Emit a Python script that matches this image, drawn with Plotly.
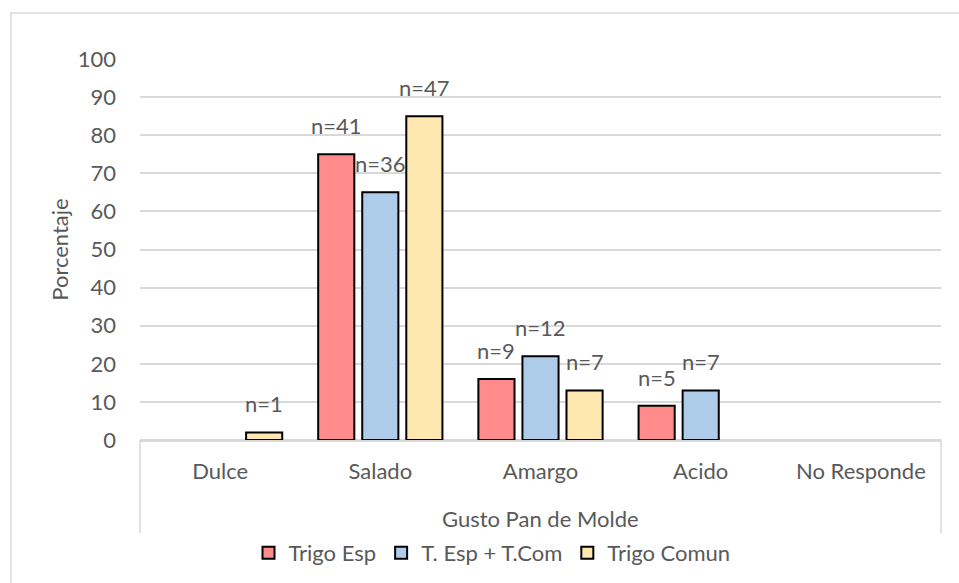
import plotly.graph_objects as go

categories = ["Dulce", "Salado", "Amargo", "Acido", "No Responde"]
series_names = ["Trigo Esp", "T. Esp + T.Com", "Trigo Comun"]
trigo_esp = [None, 75, 16, 9, None]
t_esp_com = [None, 65, 22, 13, None]
trigo_comun = [2, 85, 13, None, None]
labels_esp = [None, "n=41", "n=9", "n=5", None]
labels_esp_com = [None, "n=36", "n=12", "n=7", None]
labels_comun = ["n=1", "n=47", "n=7", None, None]
y_ticks = [0, 10, 20, 30, 40, 50, 60, 70, 80, 90, 100]

colors = ["#FF8B8B", "#ADCCEA", "#FFE8B0"]
FONT = "Lato, 'Open Sans', sans-serif"
FS = 22
GRAY = "#595959"
LINE = "#D9D9D9"

W, H = 959, 583
L, R, T, B = 140, 18, 59, 143
plot_w = W - L - R
plot_h = H - T - B

def px_x(p):
    return (p - L) / plot_w

def px_y(p):
    return (H - B - p) / plot_h

bargap = 0.175
bargroupgap = 0.18

fig = go.Figure()
all_vals = [trigo_esp, t_esp_com, trigo_comun]
all_labels = [labels_esp, labels_esp_com, labels_comun]
for name, vals, col in zip(series_names, all_vals, colors):
    fig.add_trace(go.Bar(
        name=name, x=categories, y=vals,
        marker=dict(color=col, line=dict(color="black", width=2)),
    ))

# data labels above bars
cat_w = plot_w / len(categories)
slot = cat_w * (1 - bargap) / 3
for i, (vals, labs) in enumerate(zip(all_vals, all_labels)):
    for c, v, t in zip(categories, vals, labs):
        if v is None or t is None:
            continue
        fig.add_annotation(x=c, y=v, text=t, showarrow=False,
                           xshift=(i - 1) * slot, yshift=13,
                           yanchor="bottom", xanchor="center",
                           font=dict(family=FONT, size=FS, color=GRAY))

# x-axis title
fig.add_annotation(xref="paper", yref="paper", x=0.5, y=px_y(518),
                   text="Gusto Pan de Molde", showarrow=False,
                   xanchor="center", yanchor="middle",
                   font=dict(family=FONT, size=FS, color=GRAY))

shapes = [
    dict(type="line", xref="paper", yref="paper", x0=0, x1=0,
         y0=0, y1=px_y(533), line=dict(color=LINE, width=1.5)),
    dict(type="line", xref="paper", yref="paper", x0=1, x1=1,
         y0=0, y1=px_y(533), line=dict(color=LINE, width=1.5)),
    dict(type="rect", xref="paper", yref="paper", x0=px_x(11), x1=px_x(975),
         y0=px_y(13), y1=px_y(600), line=dict(color=LINE, width=1.5),
         fillcolor="rgba(0,0,0,0)", layer="below"),
]

fig.update_layout(
    width=W, height=H,
    margin=dict(l=L, r=R, t=T, b=B, autoexpand=False),
    paper_bgcolor="white", plot_bgcolor="white",
    barmode="group", bargap=bargap, bargroupgap=bargroupgap,
    font=dict(family=FONT, size=FS, color=GRAY),
    shapes=shapes,
    legend=dict(orientation="h", x=px_x(492), y=px_y(553),
                xanchor="center", yanchor="middle",
                font=dict(family=FONT, size=FS, color=GRAY),
                itemwidth=30, traceorder="normal"),
    xaxis=dict(showline=True, linecolor=LINE, linewidth=1.5, ticks="",
               ticklabelstandoff=11, tickfont=dict(family=FONT, size=FS, color=GRAY)),
    yaxis=dict(range=[0, 100], tickvals=y_ticks, showgrid=True, gridcolor=LINE,
               gridwidth=1.5, zeroline=True, zerolinecolor=LINE, zerolinewidth=1.5,
               ticks="", ticklabelstandoff=23,
               tickfont=dict(family=FONT, size=FS, color=GRAY),
               title=dict(text="Porcentaje", standoff=3,
                          font=dict(family=FONT, size=FS, color=GRAY))),
)

fig.write_html("out.html", config={"displayModeBar": False},
               post_script="document.body.style.margin='0';")
